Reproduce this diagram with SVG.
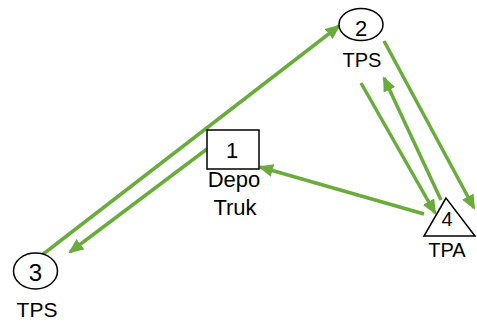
<svg xmlns="http://www.w3.org/2000/svg" width="477" height="323" viewBox="0 0 477 323">
<style>
.node{fill:#fff;stroke:#000;stroke-width:1.5}
.t{font-family:"Liberation Sans",Arial,sans-serif;fill:#000;text-anchor:middle}
.e{stroke:#6aac3c;stroke-width:3.5;fill:none;marker-end:url(#ah)}
</style>
<defs>
<marker id="ah" markerUnits="userSpaceOnUse" markerWidth="15" markerHeight="13" refX="13" refY="6.5" orient="auto">
<path d="M0,0 L15,6.5 L0,13 z" fill="#6aac3c"/>
</marker>
</defs>
<g id="connectors">
<line class="e" x1="42" y1="255" x2="339" y2="26"/>
<line class="e" x1="207" y1="149" x2="70" y2="252"/>
<line class="e" x1="424" y1="214" x2="260" y2="167"/>
<line class="e" x1="361" y1="83" x2="435" y2="213"/>
<line class="e" x1="441" y1="200" x2="384" y2="78"/>
<line class="e" x1="384" y1="41" x2="474" y2="208"/>
</g>
<g id="node1">
<rect class="node" x="207" y="130" width="52" height="39"/>
<text class="t" x="232" y="158" font-size="22">1</text>
<text class="t" x="234" y="187" font-size="22">Depo</text>
<text class="t" x="235" y="215" font-size="22">Truk</text>
</g>
<g id="node2">
<ellipse class="node" cx="361" cy="24.5" rx="22" ry="16"/>
<text class="t" x="361" y="35.5" font-size="22">2</text>
<text class="t" x="362" y="67" font-size="20">TPS</text>
</g>
<g id="node3">
<ellipse class="node" cx="35.5" cy="271" rx="22" ry="18"/>
<text class="t" x="35.5" y="281" font-size="24">3</text>
<text class="t" x="37" y="317" font-size="21">TPS</text>
</g>
<g id="node4">
<polygon class="node" points="446,198 424,236 475,236"/>
<text class="t" x="447" y="226" font-size="20">4</text>
<text class="t" x="447" y="257" font-size="20">TPA</text>
</g>
</svg>
